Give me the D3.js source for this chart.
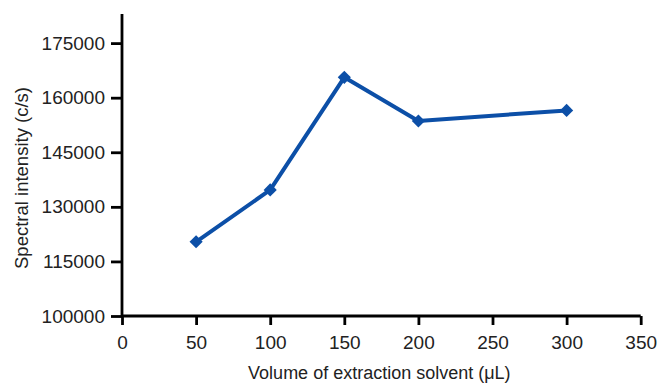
<!DOCTYPE html>
<html><head><meta charset="utf-8">
<script src="https://cdn.jsdelivr.net/npm/d3@7"></script>
<style>body{margin:0;background:#fff}svg{display:block}text{font-family:"Liberation Sans",Arial,Helvetica,sans-serif;fill:#222}</style>
</head><body><svg id="c" width="658" height="383"></svg>
<script>
const volumes = [50, 100, 150, 200, 300];
const intensities = [120400, 134650, 165600, 153600, 156500];
const xTicks = [0, 50, 100, 150, 200, 250, 300, 350];
const yTicks = [100000, 115000, 130000, 145000, 160000, 175000];
const xTitle = "Volume of extraction solvent (μL)";
const yTitle = "Spectral intensity (c/s)";

(function () {
const svg = d3.select("#c");
const mLeft = 122, mRight = 640.7, mTop = 14, mBottom = 316;
const x = d3.scaleLinear().domain([0, 350]).range([mLeft, mRight]);
const y = d3.scaleLinear().domain([100000, 183000]).range([mBottom, mTop]);

const xAxis = svg.append("g").attr("transform", `translate(0,${mBottom})`)
  .call(d3.axisBottom(x).tickValues(xTicks).tickFormat(d3.format("d")).tickSize(9).tickPadding(11).tickSizeOuter(0));
const yAxis = svg.append("g").attr("transform", `translate(${mLeft},0)`)
  .call(d3.axisLeft(y).tickValues(yTicks).tickFormat(d3.format("d")).tickSize(11).tickPadding(6).tickSizeOuter(0));
[xAxis, yAxis].forEach(g => {
  g.select(".domain").attr("stroke", "#000").attr("stroke-width", 2.8);
  g.selectAll(".tick line").attr("stroke", "#000").attr("stroke-width", 2.8);
  g.selectAll(".tick text").attr("fill", "#222").style("font-size", "19px")
   .style("font-family", '"Liberation Sans",Arial,sans-serif');
});
yAxis.select(".domain").attr("d", `M0,${y(100000)}V${mTop}`);
xAxis.select(".domain").attr("d", `M${mLeft},0H${mRight}`);

const data = volumes.map((v, i) => ({v, s: intensities[i]}));
const color = "#0c4fa7";
svg.append("path").datum(data)
  .attr("fill", "none").attr("stroke", color).attr("stroke-width", 4)
  .attr("stroke-linejoin", "round")
  .attr("d", d3.line().x(d => x(d.v)).y(d => y(d.s)));
svg.selectAll(".pt").data(data).enter().append("path")
  .attr("class", "pt")
  .attr("transform", d => `translate(${x(d.v)},${y(d.s)})`)
  .attr("d", d3.symbol().type(d3.symbolDiamond2).size(110))
  .attr("fill", color);

svg.append("text").attr("x", (mLeft + mRight) / 2 - 2).attr("y", 379)
  .attr("text-anchor", "middle").style("font-size", "18px").text(xTitle);
svg.append("text").attr("transform", `translate(28,${(mTop + mBottom) / 2 + 13}) rotate(-90)`)
  .attr("text-anchor", "middle").style("font-size", "18.5px").text(yTitle);
})();
</script></body></html>
